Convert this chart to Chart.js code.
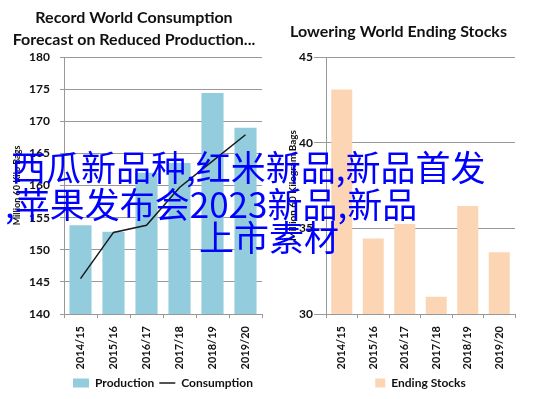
<!DOCTYPE html>
<html><head><meta charset="utf-8">
<script src="https://cdn.jsdelivr.net/npm/chart.js@4"></script>
<style>
html,body{margin:0;padding:0;background:#fff;width:537px;height:399px;overflow:hidden;}
canvas{position:absolute;top:0;}
#c1{left:0;}
#c2{left:268px;}
.ov{position:absolute;color:#0000ff;font-family:"Noto Sans CJK SC";font-size:35px;line-height:35px;white-space:nowrap;}
</style></head>
<body>
<canvas id="c1" width="268" height="399"></canvas>
<canvas id="c2" width="269" height="399"></canvas>
<div class="ov" id="t1" style="left:11px;top:148px">西瓜新品种,红米新品,新品首发</div>
<div class="ov" id="t2" style="left:5px;top:185px">,苹果发布会2023新品,新品</div>
<div class="ov" id="t3" style="left:199px;top:218px">上市素材</div>
<script>
const categories = ['2014/15','2015/16','2016/17','2017/18','2018/19','2019/20'];
const production = [153.8, 152.8, 162.0, 163.5, 174.4, 169.0];
const consumption = [145.5, 152.7, 153.8, 159.7, 163.8, 167.9];
const endingStocks = [43.1, 34.4, 35.25, 31.0, 36.3, 33.6];
const leftTitle = ['Record World Consumption', 'Forecast on Reduced Production...'];
const rightTitle = 'Lowering World Ending Stocks';
const leftAxisTitle = 'Million 60 Kilo Bags';
const rightAxisTitle = 'Million 60 Kilogram Bags';

const FONT = 'Lato';
const TXT = '#111';
const GRID = '#999';

function legendGen(styles) {
  return function(chart) {
    const items = Chart.defaults.plugins.legend.labels.generateLabels(chart);
    items.sort((a, b) => a.datasetIndex - b.datasetIndex);
    items.forEach((it) => {
      const st = styles[it.datasetIndex];
      it.pointStyle = st;
      if (st === 'line') { it.lineWidth = 1.5; it.strokeStyle = '#1a1a1a'; }
      else { it.lineWidth = 0; it.fillStyle = chart.data.datasets[it.datasetIndex].backgroundColor; }
    });
    return items;
  };
}

const xTicks = {minRotation:90, maxRotation:90, padding:8, color:TXT, font:{family:FONT, size:11, weight:'bold'}};
const xGrid = {display:true, drawOnChartArea:false, drawTicks:true, tickLength:4, color:GRID, offset:true};

new Chart(document.getElementById('c1'), {
  type: 'bar',
  data: {
    labels: categories,
    datasets: [
      {type:'bar', label:'Production', data: production, backgroundColor:'#93CDDD', borderWidth:0,
       categoryPercentage:1, barPercentage:0.67, order:2},
      {type:'line', label:'Consumption', data: consumption, borderColor:'#1a1a1a', backgroundColor:'#1a1a1a',
       borderWidth:1.5, pointRadius:0, fill:false, tension:0, order:1}
    ]
  },
  options: {
    responsive:false, animation:false,
    layout:{padding:{left:6, right:6, top:0, bottom:0}},
    plugins:{
      tooltip:{enabled:false},
      title:{display:true, text:leftTitle, color:TXT,
        font:{family:FONT, size:16, weight:'bold', lineHeight:22/16}, padding:{top:7, bottom:6}},
      legend:{position:'bottom', fullSize:false, labels:{usePointStyle:true, pointStyleWidth:16, boxHeight:9, padding:5,
        color:TXT, font:{family:FONT, size:12, weight:'bold'}, generateLabels: legendGen(['rect','line'])}}
    },
    scales:{
      x:{
        grid:xGrid, border:{color:GRID}, ticks:xTicks,
        afterFit(s){ s.height = 58; }
      },
      y:{
        min:140, max:180,
        grid:{color:GRID, tickLength:4},
        border:{color:GRID},
        ticks:{stepSize:5, padding:10, color:TXT, font:{family:FONT, size:12, weight:'bold'}},
        title:{display:true, text:leftAxisTitle, color:TXT, font:{family:FONT, size:9, weight:'bold'}, padding:{top:5.5, bottom:0}},
        afterFit(s){ s.width = 58; }
      }
    }
  }
});

new Chart(document.getElementById('c2'), {
  type: 'bar',
  data: {
    labels: categories,
    datasets: [
      {label:'Ending Stocks', data: endingStocks, backgroundColor:'#FCD5B5', borderWidth:0,
       categoryPercentage:1, barPercentage:0.667}
    ]
  },
  options: {
    responsive:false, animation:false,
    layout:{padding:{left:14, right:22, top:0, bottom:0}},
    plugins:{
      tooltip:{enabled:false},
      title:{display:true, text:rightTitle, color:TXT,
        font:{family:FONT, size:16, weight:'bold', lineHeight:22/16}, padding:{top:21, bottom:14}},
      legend:{position:'bottom', fullSize:false, labels:{usePointStyle:true, pointStyleWidth:10, boxHeight:9, padding:5,
        color:TXT, font:{family:FONT, size:12, weight:'bold'}, generateLabels: legendGen(['rect'])}}
    },
    scales:{
      x:{
        grid:xGrid, border:{color:GRID}, ticks:xTicks,
        afterFit(s){ s.height = 58; }
      },
      y:{
        min:30, max:45,
        grid:{color:GRID, tickLength:12},
        border:{color:GRID},
        ticks:{stepSize:5, padding:1, color:TXT, font:{family:FONT, size:12, weight:'bold'}},
        title:{display:true, text:rightAxisTitle, color:TXT, font:{family:FONT, size:10, weight:'bold'}, padding:{top:4.5, bottom:0}},
        afterFit(s){ s.width = 44; }
      }
    }
  }
});
</script>
</body></html>
